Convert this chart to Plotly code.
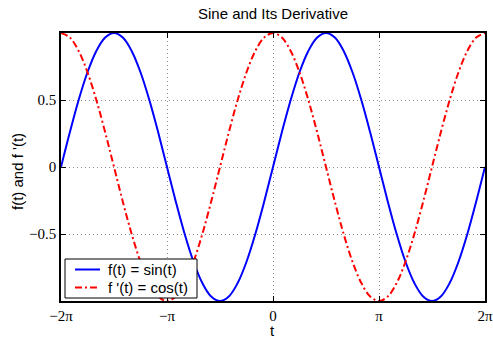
import plotly.graph_objects as go

# t samples (radians), step pi/12 from -2pi to 2pi
t = [-6.283, -6.021, -5.760, -5.498, -5.236, -4.974, -4.712, -4.451, -4.189, -3.927,
     -3.665, -3.403, -3.142, -2.880, -2.618, -2.356, -2.094, -1.833, -1.571, -1.309,
     -1.047, -0.785, -0.524, -0.262, 0.0, 0.262, 0.524, 0.785, 1.047, 1.309,
     1.571, 1.833, 2.094, 2.356, 2.618, 2.880, 3.142, 3.403, 3.665, 3.927,
     4.189, 4.451, 4.712, 4.974, 5.236, 5.498, 5.760, 6.021, 6.283]

f_sin = [0, 0.259, 0.5, 0.707, 0.866, 0.966, 1, 0.966, 0.866, 0.707, 0.5, 0.259, 0,
         -0.259, -0.5, -0.707, -0.866, -0.966, -1, -0.966, -0.866, -0.707, -0.5, -0.259,
         0, 0.259, 0.5, 0.707, 0.866, 0.966, 1, 0.966, 0.866, 0.707, 0.5, 0.259, 0,
         -0.259, -0.5, -0.707, -0.866, -0.966, -1, -0.966, -0.866, -0.707, -0.5, -0.259, 0]

f_cos = [1, 0.966, 0.866, 0.707, 0.5, 0.259, 0, -0.259, -0.5, -0.707, -0.866, -0.966, -1,
         -0.966, -0.866, -0.707, -0.5, -0.259, 0, 0.259, 0.5, 0.707, 0.866, 0.966,
         1, 0.966, 0.866, 0.707, 0.5, 0.259, 0, -0.259, -0.5, -0.707, -0.866, -0.966, -1,
         -0.966, -0.866, -0.707, -0.5, -0.259, 0, 0.259, 0.5, 0.707, 0.866, 0.966, 1]

series_names = ["f(t) = sin(t)", "f '(t) = cos(t)"]
series_colors = ["#0000ff", "#ff0000"]
series_dash = ["solid", "7px,3px,2px,3px"]

x_tickvals = [-6.2832, -3.1416, 0, 3.1416, 6.2832]
x_ticklabels = ["\u22122\u03c0", "\u2212\u03c0", "0", "\u03c0", "2\u03c0"]
y_tickvals = [-0.5, 0, 0.5]
y_ticklabels = ["\u22120.5", "0", "0.5"]

W, H = 493, 339
L, R, T, B = 61, 485, 33, 301


def px(xp):
    return (xp - L) / (R - L)


def py(yp):
    return (B - yp) / (B - T)


fig = go.Figure()
for ys, nm, col, dsh in zip([f_sin, f_cos], series_names, series_colors, series_dash):
    fig.add_trace(go.Scatter(x=t, y=ys, mode="lines", name=nm, showlegend=False,
                             line=dict(color=col, width=2, shape="spline", dash=dsh)))

axis_common = dict(showline=True, linecolor="black", linewidth=1.5, mirror="ticks",
                   ticks="inside", ticklen=5, tickcolor="black", automargin=False,
                   showgrid=True, gridcolor="#8c8c8c", gridwidth=1, griddash="1px,3px",
                   zeroline=False,
                   tickfont=dict(family="Liberation Serif", size=15, color="black"))

sans = dict(family="Liberation Sans", size=15, color="black")

# manual MATLAB-style legend
shapes = [dict(type="rect", xref="paper", yref="paper",
               x0=px(65), x1=px(197), y0=py(298), y1=py(259),
               line=dict(color="black", width=1), fillcolor="white", layer="above")]
annotations = []
for i, (nm, col, dsh) in enumerate(zip(series_names, series_colors, series_dash)):
    yc = 269.5 + i * 18
    shapes.append(dict(type="line", xref="paper", yref="paper",
                       x0=px(75), x1=px(100), y0=py(yc), y1=py(yc),
                       line=dict(color=col, width=2, dash=dsh), layer="above"))
    annotations.append(dict(text=nm, xref="paper", yref="paper", x=px(106), y=py(yc),
                            xanchor="left", yanchor="middle", showarrow=False,
                            font=sans))

# axis titles
annotations.append(dict(text="t", xref="paper", yref="paper", x=px(272), y=py(330),
                        xanchor="center", yanchor="middle", showarrow=False, font=sans))
annotations.append(dict(text="f(t) and f '(t)", xref="paper", yref="paper", x=px(17),
                        y=py(172), xanchor="center", yanchor="middle", showarrow=False,
                        textangle=-90, font=sans))

fig.update_layout(
    width=W, height=H,
    margin=dict(l=L, r=W - R, t=T, b=H - B, autoexpand=False),
    paper_bgcolor="white", plot_bgcolor="white",
    title=dict(text="Sine and Its Derivative", x=(L + R) / 2 / W, xanchor="center",
               y=1 - 14 / H, yanchor="middle", font=sans),
    xaxis=dict(range=[-6.2832, 6.2832], tickvals=x_tickvals, ticktext=x_ticklabels,
               **axis_common),
    yaxis=dict(range=[-1, 1], tickvals=y_tickvals, ticktext=y_ticklabels,
               **axis_common),
    shapes=shapes,
    annotations=annotations,
    showlegend=False,
)

fig.write_html("out.html",
               config={"displayModeBar": False},
               post_script="document.body.style.margin='0px';"
                           "document.body.style.overflow='hidden';")
